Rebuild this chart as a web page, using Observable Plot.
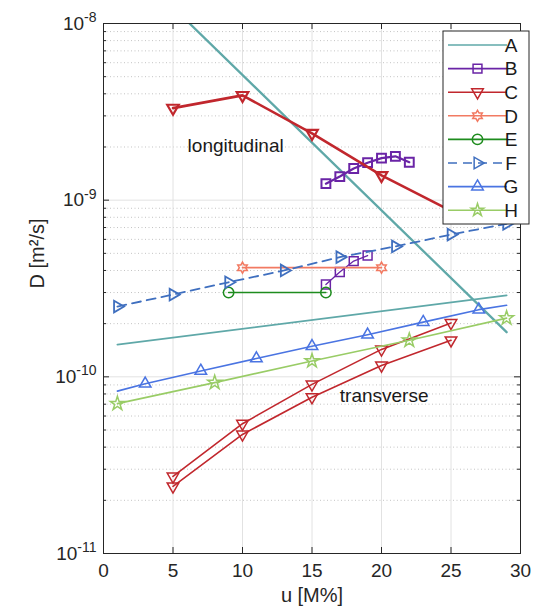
<!DOCTYPE html>
<html><head><meta charset="utf-8">
<script src="https://cdn.jsdelivr.net/npm/d3@7"></script>
<script src="https://cdn.jsdelivr.net/npm/@observablehq/plot@0.6"></script>
<style>
body{margin:0;background:#fff;}
#chart{position:relative;width:535px;height:612px;}
</style>
</head><body><div id="chart"></div>
<script>
// ---- data (u in M%, D in m^2/s) ----
const uA_long = [1, 29];
const dA_long = [2.5e-8, 1.79e-10];
const uA_trans = [1, 29];
const dA_trans = [1.52e-10, 2.89e-10];
const uB_long = [16, 17, 18, 19, 20, 21, 22];
const dB_long = [1.24e-9, 1.36e-9, 1.51e-9, 1.63e-9, 1.73e-9, 1.77e-9, 1.64e-9];
const uB_trans = [16, 17, 18, 19];
const dB_trans = [3.33e-10, 3.92e-10, 4.52e-10, 4.86e-10];
const uC_long = [5, 10, 15, 20, 25];
const dC_long = [3.32e-9, 3.92e-9, 2.39e-9, 1.38e-9, 8.7e-10];
const uC_trans1 = [5, 10, 15, 20, 25];
const dC_trans1 = [2.73e-11, 5.43e-11, 9.06e-11, 1.43e-10, 2.02e-10];
const uC_trans2 = [5, 10, 15, 20, 25];
const dC_trans2 = [2.40e-11, 4.72e-11, 7.67e-11, 1.16e-10, 1.61e-10];
const uD = [10, 20];
const dD = [4.15e-10, 4.15e-10];
const uE = [9, 16];
const dE = [3.0e-10, 3.0e-10];
const uF = [1, 5, 9, 13, 17, 21, 25, 29];
const dF = [2.50e-10, 2.92e-10, 3.43e-10, 4.00e-10, 4.76e-10, 5.47e-10, 6.39e-10, 7.35e-10];
const uG = [1, 3, 7, 11, 15, 19, 23, 27, 29];
const dG = [8.30e-11, 9.14e-11, 1.08e-10, 1.27e-10, 1.49e-10, 1.73e-10, 2.04e-10, 2.40e-10, 2.54e-10];
const uH = [1, 8, 15, 22, 29];
const dH = [7.05e-11, 9.27e-11, 1.23e-10, 1.61e-10, 2.15e-10];

const legendNames = ["A", "B", "C", "D", "E", "F", "G", "H"];
const xTicks = [0, 5, 10, 15, 20, 25, 30];
const yTicks = [1e-11, 1e-10, 1e-9, 1e-8];
const annotations = [
  {u: 6.05, D: 2.04e-9, text: "longitudinal"},
  {u: 17.0, D: 7.85e-11, text: "transverse"}
];
const xLabel = "u [M%]";
const yLabel = "D [m²/s]";

// ---- styles ----
const col = {A:"#5fa8a8", B:"#6a24a6", C:"#c1272d", D:"#f27a62", E:"#1e8c1e", F:"#3f6fbf", G:"#4a74e2", H:"#99cc66"};
const FONT = "'Liberation Sans', Arial, Helvetica, sans-serif";

const hexagram = {
  draw(ctx, size) {
    const R = Math.sqrt(size / Math.PI) * 1.15, r = R / Math.sqrt(3);
    for (let i = 0; i < 12; i++) {
      const a = i * Math.PI / 6 - Math.PI / 2, rad = i % 2 === 0 ? R : r;
      const px = rad * Math.cos(a), py = rad * Math.sin(a);
      i === 0 ? ctx.moveTo(px, py) : ctx.lineTo(px, py);
    }
    ctx.closePath();
  }
};

const rows = (u, d) => u.map((x, i) => ({u: x, D: d[i]}));
const minorTicks = [];
for (const e of [-11, -10, -9]) for (let k = 2; k <= 9; k++) minorTicks.push(k * Math.pow(10, e));

const W = 535, H = 612, mt = 23, mr = 15, mb = 59, ml = 103;
const iw = W - ml - mr, ih = H - mt - mb;

const lineOpts = (c, w, extra={}) => ({x:"u", y:"D", stroke:c, strokeWidth:w, ...extra});
const dotOpts = (c, sym, r, extra={}) => ({x:"u", y:"D", stroke:c, strokeWidth:1.5, fill:"none", symbol:sym, r, ...extra});

const plot = Plot.plot({
  width: W, height: H,
  marginTop: mt, marginRight: mr, marginBottom: mb, marginLeft: ml,
  style: {fontFamily: FONT, fontSize: "19px", color: "#262626", background: "#fff"},
  x: {domain: [0, 30], ticks: xTicks},
  y: {type: "log", domain: [1e-11, 1e-8]},
  marks: [
    // grid
    Plot.ruleY(minorTicks, {stroke: "#c4c4c4", strokeWidth: 1, strokeDasharray: "1,2.5"}),
    Plot.ruleY(yTicks, {stroke: "#e2e2e2", strokeWidth: 1}),
    Plot.ruleX(xTicks, {stroke: "#e2e2e2", strokeWidth: 1}),
    // A
    Plot.line(rows(uA_long, dA_long), lineOpts(col.A, 2.3, {clip: true})),
    Plot.line(rows(uA_trans, dA_trans), lineOpts(col.A, 1.8)),
    // B
    Plot.line(rows(uB_long, dB_long), lineOpts(col.B, 2.2)),
    Plot.dot(rows(uB_long, dB_long), dotOpts(col.B, "square", 5.0, {strokeWidth: 2})),
    Plot.line(rows(uB_trans, dB_trans), lineOpts(col.B, 1.3)),
    Plot.dot(rows(uB_trans, dB_trans), dotOpts(col.B, "square", 5.0)),
    // C
    Plot.line(rows(uC_long, dC_long), lineOpts(col.C, 2.6)),
    Plot.dot(rows(uC_long, dC_long), dotOpts(col.C, "triangle", 4.3, {rotate: 180, strokeWidth: 2.2})),
    Plot.line(rows(uC_trans1, dC_trans1), lineOpts(col.C, 1.6)),
    Plot.dot(rows(uC_trans1, dC_trans1), dotOpts(col.C, "triangle", 4.3, {rotate: 180})),
    Plot.line(rows(uC_trans2, dC_trans2), lineOpts(col.C, 1.6)),
    Plot.dot(rows(uC_trans2, dC_trans2), dotOpts(col.C, "triangle", 4.3, {rotate: 180})),
    // D
    Plot.line(rows(uD, dD), lineOpts(col.D, 1.6)),
    Plot.dot(rows(uD, dD), dotOpts(col.D, hexagram, 4.8)),
    // E
    Plot.line(rows(uE, dE), lineOpts(col.E, 1.6)),
    Plot.dot(rows(uE, dE), dotOpts(col.E, "circle", 5.2)),
    // F
    Plot.line(rows(uF, dF), lineOpts(col.F, 1.8, {strokeDasharray: "9,6"})),
    Plot.dot(rows(uF, dF), dotOpts(col.F, "triangle", 4.3, {rotate: 90, strokeWidth: 1.8})),
    // G
    Plot.line(rows(uG, dG), lineOpts(col.G, 1.6)),
    Plot.dot(rows(uG.slice(1, -1), dG.slice(1, -1)), dotOpts(col.G, "triangle", 4.3)),
    // H
    Plot.line(rows(uH, dH), lineOpts(col.H, 1.6)),
    Plot.dot(rows(uH, dH), dotOpts(col.H, "star", 4.4)),
    // annotations
    Plot.text(annotations, {x: "u", y: "D", text: "text", textAnchor: "start", fontSize: 19, fill: "#1a1a1a"}),
    // frame and inward ticks
    Plot.frame({stroke: "#262626", strokeWidth: 1}),
    Plot.tickX(xTicks, {x: d => d, insetTop: ih - 6, stroke: "#262626"}),
    Plot.tickX(xTicks, {x: d => d, insetBottom: ih - 6, stroke: "#262626"}),
    Plot.tickY(yTicks, {y: d => d, insetRight: iw - 6, stroke: "#262626"}),
    Plot.tickY(yTicks, {y: d => d, insetLeft: iw - 6, stroke: "#262626"}),
    Plot.tickY(minorTicks, {y: d => d, insetRight: iw - 3, stroke: "#262626"}),
    Plot.tickY(minorTicks, {y: d => d, insetLeft: iw - 3, stroke: "#262626"}),
    // axes
    Plot.axisX(xTicks, {tickSize: 0, tickPadding: 10, label: null, fontSize: 19}),
    Plot.axisY(yTicks, {tickSize: 0, tickPadding: 7, label: null, fontSize: 19,
      tickFormat: d => "10^" + Math.round(Math.log10(d))}),
    Plot.text([xLabel], {frameAnchor: "bottom", dy: 48, fontSize: 20, fill: "#262626"}),
    Plot.text([yLabel], {frameAnchor: "left", dx: -66, rotate: -90, fontSize: 20, fill: "#262626"})
  ]
});

document.getElementById("chart").appendChild(plot);
const svg = d3.select(plot);

// superscript tick labels
svg.selectAll('g[aria-label="y-axis tick label"] text').each(function() {
  const t = d3.select(this);
  const s = t.text();
  if (!s.includes("^")) return;
  const [base, exp] = s.split("^");
  t.text(null);
  t.append("tspan").text(base);
  t.append("tspan").attr("dy", "-0.55em").attr("font-size", "14px").text(exp);
});

// legend
const lg = svg.append("g").attr("font-family", FONT);
const lx0 = 443, ly0 = 31, lw = 86, lh = 193, step = 23.6;
lg.append("rect").attr("x", lx0).attr("y", ly0).attr("width", lw).attr("height", lh)
  .attr("fill", "#fff").attr("stroke", "#262626").attr("stroke-width", 1);
const legSym = {
  A: null,
  B: {t: d3.symbolSquare, r: 5.0, rot: 0},
  C: {t: d3.symbolTriangle, r: 4.3, rot: 180},
  D: {t: hexagram, r: 4.8, rot: 0},
  E: {t: d3.symbolCircle, r: 5.2, rot: 0},
  F: {t: d3.symbolTriangle, r: 4.3, rot: 90},
  G: {t: d3.symbolTriangle, r: 4.3, rot: 0},
  H: {t: d3.symbolStar, r: 4.0, rot: 0}
};
legendNames.forEach((n, i) => {
  const y = ly0 + 14 + i * step;
  const g = lg.append("g");
  g.append("line").attr("x1", lx0 + 5).attr("x2", lx0 + 64).attr("y1", y).attr("y2", y)
    .attr("stroke", col[n]).attr("stroke-width", 1.6)
    .attr("stroke-dasharray", n === "F" ? "9,6" : null);
  const s = legSym[n];
  if (s) {
    g.append("path").attr("d", d3.symbol(s.t, Math.PI * s.r * s.r)())
      .attr("transform", `translate(${lx0 + 34.5},${y}) rotate(${s.rot})`)
      .attr("fill", "none").attr("stroke", col[n]).attr("stroke-width", 1.5);
  }
  g.append("text").attr("x", lx0 + 68).attr("y", y).attr("dy", "0.36em")
    .attr("font-size", 19).attr("fill", "#1a1a1a").text(n);
});
</script></body></html>
